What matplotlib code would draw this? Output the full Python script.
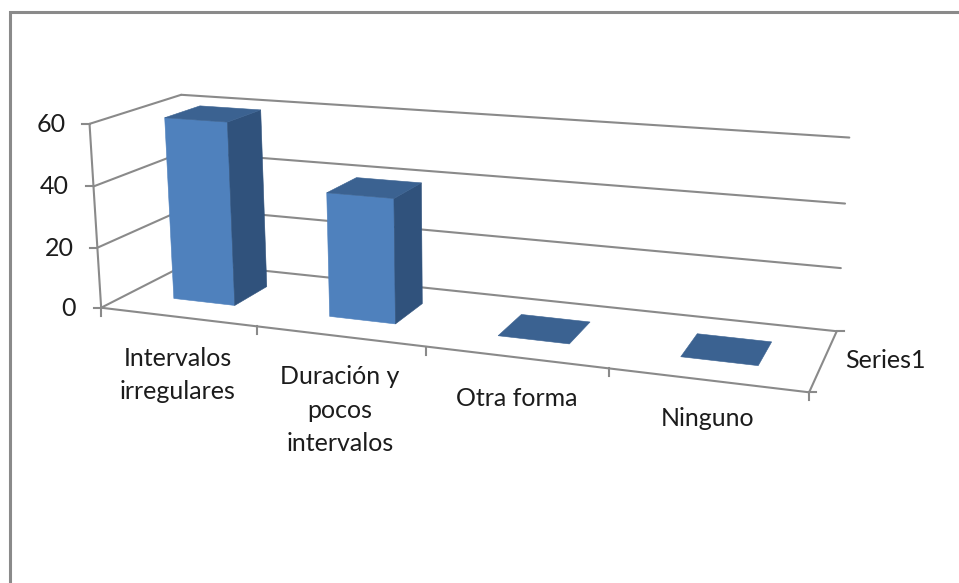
import numpy as np
import matplotlib
matplotlib.use("Agg")
import matplotlib.pyplot as plt
from matplotlib.patches import Polygon

categories = ["Intervalos\nirregulares", "Duración y\npocos\nintervalos", "Otra forma", "Ninguno"]
values = [60, 40, 0, 0]
value_ticks = [0, 20, 40, 60]
series_name = "Series1"

FRONT = "#4f81bd"
SIDE = "#30527c"
TOP = "#3b6291"
AXIS = "#8a8a8a"
TEXT = "#1c1c1c"

GAP = 0.3  # space either side of a bar, as a share of its slot
FONT_SIZE = 18
LINE_W = 1.5

plt.rcParams["font.family"] = ["Lato", "DejaVu Sans"]

# camera for the 3D box: (category, depth, value) -> figure pixels
calibration = [
    ((0, 0, 0), (100, 306.7)),
    ((0, 0, 20), (98.3, 247)),
    ((0, 0, 40), (95, 186)),
    ((0, 0, 60), (89.3, 123.3)),
    ((0, 1, 0), (190, 263)),
    ((0, 1, 60), (180, 95)),
    ((4, 1, 0), (836.7, 330)),
    ((4, 1, 20), (841, 267.7)),
    ((4, 1, 40), (845.3, 204)),
    ((4, 1, 60), (849.3, 138.3)),
    ((4, 0, 0), (809.3, 389.3)),
    ((1, 0, 0), (256.7, 328)),
    ((2, 0, 0), (425, 347)),
    ((3, 0, 0), (609.3, 372)),
]


def fit_camera(points):
    rows = []
    for (u, w, v), (px, py) in points:
        h = [u, w, v, 1]
        rows.append(h + [0, 0, 0, 0] + [-px * c for c in h])
        rows.append([0, 0, 0, 0] + h + [-py * c for c in h])
    _, _, vt = np.linalg.svd(np.array(rows, dtype=float))
    return vt[-1].reshape(3, 4)


camera = fit_camera(calibration)


def project(u, w, v):
    x, y, s = camera @ np.array([u, w, v, 1.0])
    return x / s, y / s


fig = plt.figure(figsize=(9.59, 5.83), dpi=100)
ax = fig.add_axes([0, 0, 1, 1])
ax.set_xlim(0, 959)
ax.set_ylim(583, 0)
ax.axis("off")

# outer chart frame, open at the right and bottom
ax.plot([9.5, 9.5, 959], [583, 12, 12], color=AXIS, lw=2.2, solid_joinstyle="miter")


def line3d(a, b, lw=LINE_W):
    pa, pb = project(*a), project(*b)
    ax.plot([pa[0], pb[0]], [pa[1], pb[1]], color=AXIS, lw=lw, solid_capstyle="round", zorder=1)


n = len(categories)

# gridlines along the side and back walls
for v in value_ticks:
    line3d((0, 0, v), (0, 1, v))
    line3d((0, 1, v), (n, 1, v))

# axis lines
line3d((0, 0, 0), (0, 0, 60))
line3d((0, 0, 0), (n, 0, 0))
line3d((n, 0, 0), (n, 1, 0))

# tick marks
for v in value_ticks:
    x, y = project(0, 0, v)
    ax.plot([x - 7.5, x], [y, y], color=AXIS, lw=LINE_W, zorder=1)
for i in range(n + 1):
    x, y = project(i, 0, 0)
    ax.plot([x, x], [y, y + 8], color=AXIS, lw=LINE_W, zorder=1)
for w in (0, 1):
    x, y = project(n, w, 0)
    ax.plot([x, x + 7], [y, y], color=AXIS, lw=LINE_W, zorder=1)

# bars, each as its three visible faces
for i, val in enumerate(values):
    u0, u1 = i + GAP, i + 1 - GAP
    w0, w1 = GAP, 1 - GAP
    faces = [
        ([(u0, w0, 0), (u1, w0, 0), (u1, w0, val), (u0, w0, val)], FRONT),
        ([(u1, w0, 0), (u1, w1, 0), (u1, w1, val), (u1, w0, val)], SIDE),
        ([(u0, w0, val), (u1, w0, val), (u1, w1, val), (u0, w1, val)], TOP),
    ]
    if val == 0:
        faces = faces[2:]
    for corners, color in faces:
        ax.add_patch(Polygon([project(*c) for c in corners], closed=True,
                             facecolor=color, edgecolor=color, lw=0.4, zorder=3))

# value labels follow the slant of the axis
for v, (x, y) in zip(value_ticks, [(76, 308), (74, 249), (69, 187), (65.5, 125)]):
    ax.text(x, y, str(v), ha="right", va="center", fontsize=FONT_SIZE, color=TEXT)

# category labels
label_pos = [(178, 375), (340, 410), (517, 398), (708, 419)]
for name, (x, y) in zip(categories, label_pos):
    ax.text(x, y, name, ha="center", va="center", fontsize=FONT_SIZE, color=TEXT, linespacing=1.55)

ax.text(845, 361, series_name, ha="left", va="center", fontsize=FONT_SIZE, color=TEXT)

fig.savefig("out.png", dpi=100)
